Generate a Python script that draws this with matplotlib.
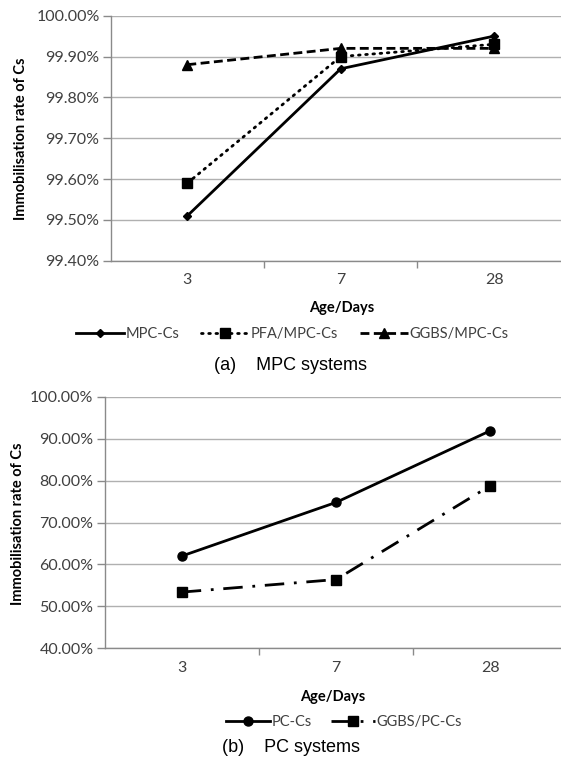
import matplotlib
matplotlib.use("Agg")
import matplotlib.pyplot as plt
from matplotlib.ticker import FuncFormatter, FixedLocator

# ---- data ----
ages = ["3", "7", "28"]

mpc_names = ["MPC-Cs", "PFA/MPC-Cs", "GGBS/MPC-Cs"]
mpc_cs = [99.51, 99.87, 99.95]
pfa_mpc_cs = [99.59, 99.90, 99.93]
ggbs_mpc_cs = [99.88, 99.92, 99.92]
mpc_yticks = [99.40, 99.50, 99.60, 99.70, 99.80, 99.90, 100.00]

pc_names = ["PC-Cs", "GGBS/PC-Cs"]
pc_cs = [62.0, 74.8, 91.9]
ggbs_pc_cs = [53.4, 56.4, 78.8]
pc_yticks = [40, 50, 60, 70, 80, 90, 100]

ylabel = "Immobilisation rate of Cs"
xlabel = "Age/Days"
cap_a = "(a)    MPC systems"
cap_b = "(b)    PC systems"

W, H = 561, 769
fig = plt.figure(figsize=(W / 100, H / 100), dpi=100)

FONT = "Lato"
grid_c = "#b0b0b0"
axis_c = "#8a8a8a"
tick_c = "#404040"


def fx(px):
    return px / W


def fy(py):
    return 1 - py / H


def style_axes(ax, yticks, fmt):
    x = list(range(len(ages)))
    ax.set_xlim(-0.5, 2.5)
    ax.set_ylim(yticks[0], yticks[-1])
    ax.yaxis.set_major_locator(FixedLocator(yticks))
    ax.yaxis.set_major_formatter(FuncFormatter(fmt))
    ax.set_xticks(x)
    ax.set_xticklabels(ages)
    ax.set_xticks([0.5, 1.5], minor=True)
    ax.tick_params(axis="x", which="major", length=0, pad=9,
                   labelsize=11.5, labelcolor=tick_c)
    ax.tick_params(axis="x", which="minor", length=5, width=1, color=axis_c)
    ax.tick_params(axis="y", which="major", length=6, width=1, color=axis_c,
                   labelsize=11.5, labelcolor=tick_c, pad=2)
    for lab in ax.get_xticklabels() + ax.get_yticklabels():
        lab.set_fontfamily(FONT)
    ax.grid(axis="y", color=grid_c, linewidth=1)
    ax.set_axisbelow(True)
    for s in ["top", "right"]:
        ax.spines[s].set_visible(False)
    for s in ["left", "bottom"]:
        ax.spines[s].set_color(axis_c)
        ax.spines[s].set_linewidth(1)


# ---- top chart ----
axA = fig.add_axes([fx(110.7), fy(260.7), fx(460), fy(15.7) - fy(260.7)])
x = list(range(len(ages)))
lw = 2.0
axA.plot(x, mpc_cs, color="black", lw=lw, marker="D", ms=4.5, label=mpc_names[0],
         zorder=5)
axA.plot(x, pfa_mpc_cs, color="black", lw=lw, ls=(0, (0.6, 2.0)), marker="s", ms=6.5,
         dash_capstyle="round", label=mpc_names[1], zorder=4)
axA.plot(x, ggbs_mpc_cs, color="black", lw=lw, ls=(0, (3.2, 1.6)), marker="^", ms=6.5,
         label=mpc_names[2], zorder=3)
style_axes(axA, mpc_yticks, lambda v, p: f"{v:.2f}%")
fig.text(fx(21), fy(138.5), ylabel, rotation=90, ha="center", va="center",
         fontsize=10.5, fontweight="bold", family=FONT)
fig.text(fx(342), fy(308), xlabel, ha="center", va="center",
         fontsize=10.5, fontweight="bold", family=FONT)
legA = fig.legend(*axA.get_legend_handles_labels(), loc="center",
                  bbox_to_anchor=(fx(292), fy(334)), ncol=3, frameon=False,
                  handlelength=3.3, handletextpad=0.1, columnspacing=1.5,
                  prop={"family": FONT, "size": 10.5})
for t in legA.get_texts():
    t.set_color(tick_c)
fig.text(fx(291), fy(366), cap_a, ha="center", va="center",
         fontsize=13, family="Liberation Sans")

# ---- bottom chart ----
axB = fig.add_axes([fx(104.6), fy(648.3), fx(463), fy(396.7) - fy(648.3)])
axB.plot(x, pc_cs, color="black", lw=lw, marker="o", ms=6.5, label=pc_names[0],
         zorder=5)
axB.plot(x, ggbs_pc_cs, color="black", lw=lw, ls=(0, (7, 3.5, 1, 3.5)), marker="s",
         ms=6.5, label=pc_names[1], zorder=4)
style_axes(axB, pc_yticks, lambda v, p: f"{v:.2f}%")
fig.text(fx(18), fy(523.5), ylabel, rotation=90, ha="center", va="center",
         fontsize=10.5, fontweight="bold", family=FONT)
fig.text(fx(333), fy(697), xlabel, ha="center", va="center",
         fontsize=10.5, fontweight="bold", family=FONT)
legB = fig.legend(*axB.get_legend_handles_labels(), loc="center",
                  bbox_to_anchor=(fx(344), fy(722)), ncol=2, frameon=False,
                  handlelength=3.0, handletextpad=0.1, columnspacing=1.3,
                  prop={"family": FONT, "size": 10.5})
for t in legB.get_texts():
    t.set_color(tick_c)
fig.text(fx(291), fy(747), cap_b, ha="center", va="center",
         fontsize=13, family="Liberation Sans")

fig.savefig("out.png", dpi=100, facecolor="white")
